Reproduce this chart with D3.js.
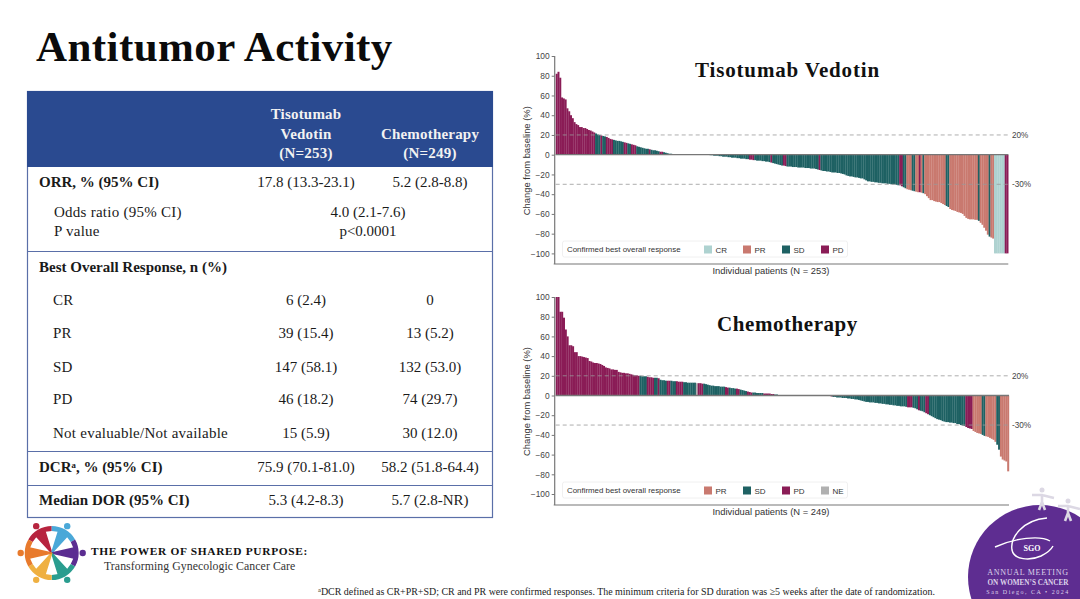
<!DOCTYPE html>
<html><head><meta charset="utf-8">
<script src="https://cdnjs.cloudflare.com/ajax/libs/d3/7.9.0/d3.min.js"></script>
<style>
html,body{margin:0;padding:0;background:#fff;overflow:hidden}
svg{display:block}
.serif{font-family:"Liberation Serif",serif}
.sans{font-family:"Liberation Sans",Arial,sans-serif}
</style></head><body>
<svg id="s" width="1080" height="599"></svg>
<script>
// ---------- chart data ----------
const responseTypes = ["CR","PR","SD","PD","NE"];
const tvValues = [
82,84,78,58,57,56,47,44,40,37,
33,31,30,28,28,27,27,26,25,24.5,
23.5,22.5,21.5,20.5,20,19.5,19,18.5,18,17,
16,15.5,15,14.5,14,14,13.5,13,12.5,12,
11.5,11,10.5,10,9.5,8.5,8,7.5,7,6.5,
6,6,5.5,5,4.5,4.5,4,3.5,3,3,
2.5,2,1.5,1,1,0.5,0.5,0,0,0,
0,0,0,0,0,0,0,0,0,0,
0,0,0,0,0,0,-0.5,-0.5,-1,-1,
-1,-1.5,-1.5,-2,-2,-2,-2.5,-2.5,-3,-3,
-3,-3.5,-3.5,-4,-4,-4,-4.5,-4.5,-5,-5,
-5.5,-5.5,-6,-6,-6,-6.5,-6.5,-7,-7,-7.5,
-8,-8.5,-9,-9.5,-10,-10.5,-11,-11,-11.5,-12,
-12,-12,-12.5,-12.5,-12.5,-13,-13,-13,-13,-13.5,
-13.5,-13.5,-14,-14,-14,-14.5,-15,-15.5,-16,-16.5,
-16.5,-17,-17,-17.5,-18,-18,-18,-18.5,-18.5,-19,
-19.5,-20,-21,-21.5,-22,-22,-22.5,-23,-23,-23.5,
-24,-24,-25,-26,-27,-27,-27.5,-27.5,-28,-28,
-28.5,-28.5,-29,-29,-29,-29.5,-29.5,-30,-30,-30,
-30.5,-31,-31,-32,-33,-34,-35,-35.5,-36,-36.5,
-37,-37.5,-38,-38,-38.5,-39,-40,-42,-44,-46,
-46,-47,-47.5,-48,-48,-49,-50,-51,-52,-53,
-55,-56,-56.5,-57,-58,-58.5,-59,-60,-62,-64,
-65,-65.5,-65.5,-65.5,-66,-66,-67,-69,-71,-74,
-77,-81,-83,-84,-85,-100,-100,-100,-100,-100,
-100,-100,-100];
const tvStatusRuns = [
["PD",22],["SD",3],["PD",1],["SD",2],["PD",4],["SD",6],["PD",2],["SD",2],["PD",3],["SD",7],
["PD",1],["SD",5],["PD",2],["SD",48],["PD",3],["SD",9],["PD",1],["SD",6],["PD",2],["SD",18],
["PD",1],["SD",44],["PD",2],["SD",2],["PR",3],["SD",2],["PR",2],["PD",1],["PR",1],["SD",1],
["PR",12],["SD",2],["PR",16],["SD",1],["PR",5],["SD",1],["PR",2],["CR",6],["PD",2]];
const chemoValues = [
100,100,85,85,79,67,60,51,51,50,
44,44,40,40,39.5,39,38.5,38,35,34.5,
33.5,33,33,32.5,32,31,30,28.5,28,27.5,
26.5,26.5,26,26,24,23.5,23,23,22.5,22.5,
22,21.5,21,20.5,20.5,20,20,19.5,19.5,19.5,
19,18.5,18.5,18,18,18,17.5,16,15.5,15.5,
15,15,15,15,14.5,14.5,14.5,14,14,14,
13.5,13.5,13,13,13,13,13,12.5,12.5,12.5,
12,12,11.5,11,10.5,10,10,9.5,9.5,9.5,
9,9,9,8.5,8,8,7.5,7.5,7,7,
6.5,6,5.5,5,4.5,4,3.5,3,3,3,
2.5,2.5,2.5,2.5,2,2,2,2,1.5,1.5,
1,1,0.5,0.5,0.5,0,0,0,0,0,
0,0,0,0,0,0,0,0,0,0,
0,0,0,0,0,0,0,0,0,-0.5,
-0.5,-1,-1.5,-1.5,-2,-2,-2,-2.5,-2.5,-2.5,
-3,-3,-3.5,-3.5,-4,-4,-4.5,-5,-5.5,-6,
-6.5,-6.5,-7,-7,-7,-7.5,-7.5,-8,-8,-8.5,
-8.5,-9,-9,-9.5,-9.5,-10,-10,-10.5,-10.5,-11,
-11,-11,-11.5,-12,-12,-12,-12.5,-13,-14,-15,
-15.5,-16,-17,-18,-19,-20,-21,-22,-23,-24,
-24.5,-25,-26,-26.5,-27,-27,-27.5,-27.5,-28,-28,
-29,-29,-30,-30.5,-31,-32,-33,-33.5,-34,-36,
-37,-38,-38.5,-39,-40,-41,-41.5,-42,-43,-44,
-45,-47,-50,-55,-62,-65,-66,-67,-77];
const chemoStatusRuns = [
["PD",46],["SD",4],["PD",4],["SD",2],["PD",1],["SD",4],["PD",2],["SD",3],["PD",4],["SD",7],
["NE",1],["PD",3],["SD",12],["PD",2],["SD",4],["PD",2],["SD",4],["PD",3],["SD",6],["PD",6],
["SD",30],["PD",2],["SD",41],["PD",3],["SD",3],["PD",1],["SD",3],["PD",2],["SD",20],["PD",4],
["PR",5],["SD",2],["PR",6],["SD",2],["PR",5]];
const yTicks = [100,80,60,40,20,0,-20,-40,-60,-80,-100];
const refLines = [20,-30];
const tvLegend = ["CR","PR","SD","PD"];
const chemoLegend = ["PR","SD","PD","NE"];

// ---------- table data ----------
const headerLines = [["Tisotumab","Vedotin","(N=253)"],["Chemotherapy","(N=249)"]];
const tableRowLabels = ["ORR, % (95% CI)","Odds ratio (95% CI)","P value","Best Overall Response, n (%)","CR","PR","SD","PD","Not evaluable/Not available","DCRᵃ, % (95% CI)","Median DOR (95% CI)"];
const tableCol1 = ["17.8 (13.3-23.1)","4.0 (2.1-7.6)","p<0.0001","","6 (2.4)","39 (15.4)","147 (58.1)","46 (18.2)","15 (5.9)","75.9 (70.1-81.0)","5.3 (4.2-8.3)"];
const tableCol2 = ["5.2 (2.8-8.8)","","","","0","13 (5.2)","132 (53.0)","74 (29.7)","30 (12.0)","58.2 (51.8-64.4)","5.7 (2.8-NR)"];

// ---------- styling ----------
const colors = {CR:"#aed2d0",PR:"#c9796f",SD:"#1e6163",PD:"#8a1c56",NE:"#b0b0b0"};
const rowY = [187,217,236,272,305,338,372,404,438,472,505];
const rowBold = [1,0,0,1,0,0,0,0,0,1,1];
const rowX = [39,54,54,39,53,53,53,53,53,39,39];
const rowLines = [251,451,485];

const svg = d3.select("#s");
const expand = runs => runs.flatMap(([k,n]) => d3.range(n).map(()=>k));

// title
svg.append("text").attr("class","serif").attr("x",36).attr("y",61)
  .attr("font-size",43).attr("font-weight",700).attr("letter-spacing",0.42).attr("fill","#0b0b0b").text("Antitumor Activity");

// table
const T = svg.append("g");
T.append("rect").attr("x",27.5).attr("y",91.5).attr("width",465).attr("height",426).attr("fill","#fff").attr("stroke","#5a6fa8").attr("stroke-width",1.2);
T.append("rect").attr("x",27).attr("y",91).attr("width",466).attr("height",76).attr("fill","#2a4a90");
T.selectAll("line.r").data(rowLines).join("line").attr("x1",27).attr("x2",492).attr("y1",d=>d+.5).attr("y2",d=>d+.5).attr("stroke","#5a6fa8").attr("stroke-width",1.1);
[[306,[119,139,158]],[430,[139,158]]].forEach(([x,ys],c)=>{
  T.selectAll("text.h"+c).data(headerLines[c]).join("text").attr("class","serif")
    .attr("x",x).attr("y",(d,i)=>ys[i]).attr("text-anchor","middle").attr("font-size",15).attr("font-weight",700).attr("letter-spacing",.2).attr("fill","#f2f2f2").text(d=>d);
});
T.selectAll("text.lab").data(tableRowLabels).join("text").attr("class","serif")
  .attr("x",(d,i)=>rowX[i]).attr("y",(d,i)=>rowY[i]).attr("font-size",15)
  .attr("letter-spacing",(d,i)=>rowBold[i]?0:.25)
  .attr("font-weight",(d,i)=>rowBold[i]?700:400).attr("fill","#1a1a1a").text(d=>d);
const merged = i => i===1||i===2;
T.selectAll("text.c1").data(tableCol1).join("text").attr("class","serif")
  .attr("x",(d,i)=>merged(i)?368:306).attr("y",(d,i)=>rowY[i]).attr("text-anchor","middle").attr("font-size",15).attr("fill","#1a1a1a").text(d=>d);
T.selectAll("text.c2").data(tableCol2).join("text").attr("class","serif")
  .attr("x",430).attr("y",(d,i)=>rowY[i]).attr("text-anchor","middle").attr("font-size",15).attr("fill","#1a1a1a").text(d=>d);

// waterfall
function waterfall(o){
  const g = svg.append("g");
  const status = expand(o.runs);
  const x = d3.scaleBand().domain(d3.range(o.values.length)).range([o.x0,o.x1]).paddingInner(0);
  const y = d3.scaleLinear().domain([100,-100]).range([o.yTop,o.yBot]);
  const bottom = o.axisY;
  // legend box
  g.append("rect").attr("x",562.5).attr("y",o.legY-8.5).attr("width",285).attr("height",16).attr("rx",2).attr("fill","#fff").attr("stroke","#f0f0f0");
  // bars
  g.selectAll("rect.bar").data(o.values).join("rect").attr("class","bar")
    .attr("x",(d,i)=>x(i)).attr("width",x.bandwidth()+0.2)
    .attr("y",d=>d>=0?y(d):y(0)).attr("height",d=>Math.abs(y(d)-y(0)))
    .attr("fill",(d,i)=>colors[status[i]]);
  // reference lines
  g.selectAll("line.ref").data(refLines).join("line")
    .attr("x1",o.x0).attr("x2",o.x1+1).attr("y1",d=>y(d)).attr("y2",d=>y(d))
    .attr("stroke","#9a9a9a").attr("stroke-opacity",.8).attr("stroke-width",1).attr("stroke-dasharray","4 3");
  g.selectAll("text.ref").data(refLines).join("text").attr("class","sans")
    .attr("x",1012).attr("y",d=>y(d)+3).attr("font-size",8.2).attr("fill","#444").text(d=>d+"%");
  // zero line
  g.append("line").attr("x1",o.x0).attr("x2",o.x1).attr("y1",y(0)).attr("y2",y(0)).attr("stroke","#777").attr("stroke-width",1.3);
  // y axis
  const yAxis = g.append("g").attr("transform",`translate(${o.x0-1},0)`)
    .call(d3.axisLeft(y).tickValues(yTicks).tickSize(3).tickPadding(2));
  yAxis.selectAll("text").attr("class","sans").attr("font-size",8.4).attr("fill","#444").attr("font-family",'"Liberation Sans"');
  yAxis.selectAll(".tick line").attr("stroke","#777");
  yAxis.select(".domain").attr("stroke","#777").attr("stroke-width",1.2).attr("d",`M0,${o.yTop}V${bottom}`);
  // x axis line
  g.append("line").attr("x1",o.x0-2).attr("x2",o.x1).attr("y1",bottom).attr("y2",bottom).attr("stroke","#777").attr("stroke-width",1.2);
  // axis titles
  g.append("text").attr("class","sans").attr("transform",`translate(530,${(o.yTop+o.yBot)/2+6}) rotate(-90)`)
    .attr("text-anchor","middle").attr("font-size",9.4).attr("fill","#333").text("Change from baseline (%)");
  g.append("text").attr("class","sans").attr("x",771).attr("y",bottom+10).attr("text-anchor","middle")
    .attr("font-size",9.4).attr("fill","#333").text(o.xLabel);
  // legend
  g.append("text").attr("class","sans").attr("x",567).attr("y",o.legY+2.5).attr("font-size",7.9).attr("fill","#333").text("Confirmed best overall response");
  const lx = d3.scalePoint().domain(o.legend).range([704,821]);
  const li = g.selectAll("g.li").data(o.legend).join("g").attr("transform",d=>`translate(${lx(d)},${o.legY})`);
  li.append("rect").attr("x",0).attr("y",-4).attr("width",8).attr("height",8).attr("fill",d=>colors[d]);
  li.append("text").attr("class","sans").attr("x",11.5).attr("y",3).attr("font-size",8).attr("fill","#333").text(d=>d);
  // chart title
  g.append("text").attr("class","serif").attr("x",o.titleX).attr("y",o.titleY).attr("text-anchor","middle")
    .attr("font-size",21).attr("font-weight",700).attr("fill","#111").attr("letter-spacing",o.titleSpacing).text(o.title);
}
waterfall({values:tvValues,runs:tvStatusRuns,x0:555.7,x1:1008.3,yTop:56,yBot:253.4,axisY:264,legY:249.5,legend:tvLegend,
  xLabel:"Individual patients (N = 253)",title:"Tisotumab Vedotin",titleX:787.5,titleY:77,titleSpacing:.85});
waterfall({values:chemoValues,runs:chemoStatusRuns,x0:555.7,x1:1009,yTop:297,yBot:494,axisY:505,legY:490.5,legend:chemoLegend,
  xLabel:"Individual patients (N = 249)",title:"Chemotherapy",titleX:787.5,titleY:331,titleSpacing:.55});

// left logo wheel
const wheelColors = ["#b7243f","#4aa8d8","#5b2d91","#2a9d8f","#efb041","#e87a2c"];
const wheelAngles = wheelColors.map((c,i)=>i*Math.PI/3-Math.PI/6);
const W = svg.append("g").attr("transform","translate(51.7,553)");
const ringArc = d3.arc().innerRadius(22).outerRadius(27);
const wedgeArc = d3.arc().innerRadius(0).outerRadius(23);
W.selectAll("path.r").data(wheelColors).join("path").attr("d",(c,i)=>ringArc({startAngle:wheelAngles[i]-Math.PI/6,endAngle:wheelAngles[i]+Math.PI/6})).attr("fill",c=>c);
W.selectAll("path.w").data(wheelColors).join("path").attr("d",(c,i)=>wedgeArc({startAngle:wheelAngles[i]-.22,endAngle:wheelAngles[i]+.22})).attr("fill",c=>c).attr("stroke",c=>c).attr("stroke-width",1.5);
W.selectAll("circle").data(wheelColors).join("circle")
  .attr("cx",(c,i)=>31*Math.sin(wheelAngles[i]))
  .attr("cy",(c,i)=>-31*Math.cos(wheelAngles[i]))
  .attr("r",3.2).attr("fill",c=>c);

svg.append("text").attr("class","serif").attr("x",91).attr("y",555).attr("font-size",11.4).attr("font-weight",700).attr("letter-spacing",.67).attr("fill","#111").text("THE POWER OF SHARED PURPOSE:");
svg.append("text").attr("class","serif").attr("x",104).attr("y",570).attr("font-size",11.8).attr("letter-spacing",.06).attr("fill","#333").text("Transforming Gynecologic Cancer Care");

// footnote
const fn = svg.append("text").attr("class","serif").attr("x",318).attr("y",595).attr("font-size",9.95).attr("fill","#222");
fn.append("tspan").attr("font-size",6.5).attr("dy",-3).text("a");
fn.append("tspan").attr("dy",3).text("DCR defined as CR+PR+SD; CR and PR were confirmed responses. The minimum criteria for SD duration was ≥5 weeks after the date of randomization.");

// SGO badge
const B = svg.append("g");
B.append("circle").attr("cx",1040).attr("cy",577).attr("r",72).attr("fill","#5e2d91");
B.append("path").attr("d","M1047,518 C1022,520 1010,538 1012,550 C1014,560 1030,561 1041,556 C1047,553 1051,550 1053,546").attr("fill","none").attr("stroke","#fff").attr("stroke-width",1.4);
B.append("path").attr("d","M995,547 C1015,538 1040,535 1050,541").attr("fill","none").attr("stroke","#fff").attr("stroke-width",1.4);
B.append("text").attr("class","serif").attr("x",1032).attr("y",551).attr("text-anchor","middle").attr("font-size",8).attr("font-weight",700).attr("fill","#fff").text("SGO");
B.append("text").attr("class","serif").attr("x",1028).attr("y",575).attr("text-anchor","middle").attr("font-size",8).attr("letter-spacing",.7).attr("fill","#ddd3ea").text("ANNUAL MEETING");
B.append("text").attr("class","serif").attr("x",1028).attr("y",584.5).attr("text-anchor","middle").attr("font-size",7.2).attr("font-weight",700).attr("fill","#ddd3ea").text("ON WOMEN’S CANCER");
B.append("text").attr("class","serif").attr("x",1028).attr("y",594).attr("text-anchor","middle").attr("font-size",6).attr("letter-spacing",1.5).attr("fill","#ddd3ea").text("San Diego, CA • 2024");
// figures on the badge
[[1042,490],[1068,501]].forEach(([fx,fy])=>{
  const f = svg.append("g").attr("transform",`translate(${fx},${fy})`).attr("stroke","#dcd8e4").attr("fill","#dcd8e4");
  f.append("circle").attr("r",2.5).attr("stroke","none");
  f.append("path").attr("d","M-10,5 L0,5 L12,8 M0,4 L0,12 M0,12 L-3,20 M0,12 L3,20").attr("stroke-width",2.6).attr("fill","none");
});
</script>
</body></html>
